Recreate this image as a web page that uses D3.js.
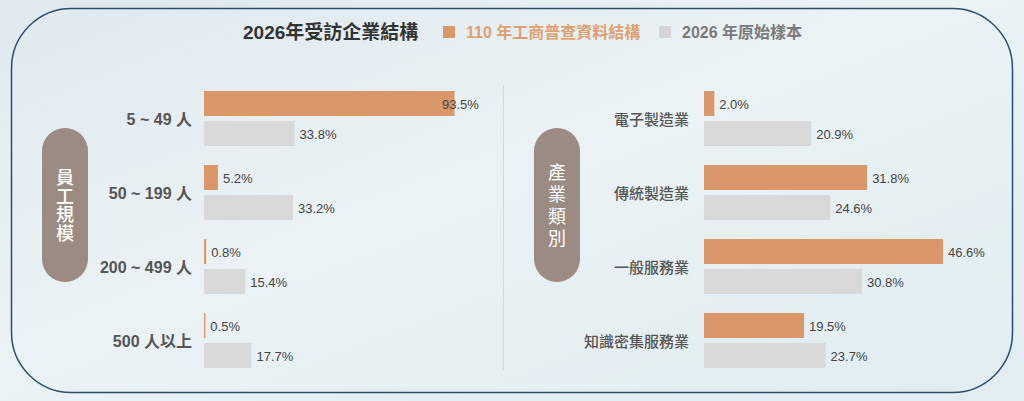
<!DOCTYPE html>
<html>
<head>
<meta charset="utf-8">
<script src="https://cdn.jsdelivr.net/npm/d3@7"></script>
<style>
  html, body { margin: 0; padding: 0; background: #e4eef2; }
  svg { display: block; }
</style>
</head>
<body>
<div id="chart"></div>
<script>
// data
const title = '2026年受訪企業結構';
const seriesNames = ['110 年工商普查資料結構', '2026 年原始樣本'];
const sizeLabels = ['5 ~ 49 人', '50 ~ 199 人', '200 ~ 499 人', '500 人以上'];
const sizeCensus = [93.5, 5.2, 0.8, 0.5];
const sizeSample = [33.8, 33.2, 15.4, 17.7];
const industryLabels = ['電子製造業', '傳統製造業', '一般服務業', '知識密集服務業'];
const industryCensus = [2.0, 31.8, 46.6, 19.5];
const industrySample = [20.9, 24.6, 30.8, 23.7];

const width = 1024, height = 401;
const colors = ['#d9976a', '#d9d9d9'];
const cjk = '"Liberation Sans", Arial, "Noto Sans CJK TC", sans-serif';

var svg = d3.select('#chart')
  .append('svg')
  .attr('width', width)
  .attr('height', height);

var defs = svg.append('defs');
var bg = defs.append('linearGradient')
  .attr('id', 'bg')
  .attr('x1', 0).attr('y1', 0).attr('x2', 1).attr('y2', 1);
bg.append('stop').attr('offset', '0%').attr('stop-color', '#dfe9ee');
bg.append('stop').attr('offset', '45%').attr('stop-color', '#eaf2f5');
bg.append('stop').attr('offset', '100%').attr('stop-color', '#e1edf1');

svg.append('rect')
  .attr('width', width).attr('height', height)
  .attr('fill', 'url(#bg)');

// frame
svg.append('rect')
  .attr('x', 11.5).attr('y', 8.5)
  .attr('width', 1001).attr('height', 384)
  .attr('rx', 60).attr('ry', 60)
  .attr('fill', 'none')
  .attr('stroke', '#2d4c6c')
  .attr('stroke-width', 1.5);

// title + legend
svg.append('text')
  .attr('x', 243).attr('y', 39)
  .attr('font-family', cjk)
  .attr('font-size', 19)
  .attr('font-weight', 'bold')
  .attr('fill', '#333')
  .text(title);

var legend = svg.append('g');
var legendX = [443, 659];
var legendText = ['#dfa071', '#7a7a7a'];
var legendSwatch = ['#d9976a', '#d6d6d9'];
seriesNames.forEach((name, i) => {
  legend.append('rect')
    .attr('x', legendX[i]).attr('y', 26)
    .attr('width', 12).attr('height', 12)
    .attr('fill', legendSwatch[i]);
  legend.append('text')
    .attr('x', legendX[i] + 23).attr('y', 38)
    .attr('font-family', cjk)
    .attr('font-size', 16)
    .attr('font-weight', 'bold')
    .attr('fill', legendText[i])
    .text(name);
});

// divider
svg.append('line')
  .attr('x1', 503.5).attr('x2', 503.5)
  .attr('y1', 85).attr('y2', 370)
  .attr('stroke', '#d3dadd')
  .attr('stroke-width', 1);

function drawPanel(opts) {
  var g = svg.append('g');

  var y = d3.scaleBand()
    .domain(opts.labels)
    .range([91, 368])
    .paddingInner(19 / 74)
    .paddingOuter(0);

  var ySub = d3.scaleBand()
    .domain([0, 1])
    .range([0, y.bandwidth()])
    .paddingInner(1 / 6);

  var x = d3.scaleLinear().domain([0, 100]).range(opts.xRange);

  // pill with vertical title
  g.append('rect')
    .attr('x', opts.pillX).attr('y', 128)
    .attr('width', 46).attr('height', 154)
    .attr('rx', 23).attr('ry', 23)
    .attr('fill', '#9b8b82');

  g.append('text')
    .attr('x', opts.pillX + 23)
    .attr('y', 205 + opts.pillGap / 2)
    .attr('writing-mode', 'vertical-rl')
    .attr('text-anchor', 'middle')
    .attr('letter-spacing', opts.pillGap)
    .attr('font-family', '"Noto Sans CJK TC", sans-serif')
    .attr('font-size', 18)
    .attr('font-weight', opts.pillWeight)
    .attr('fill', '#fff')
    .text(opts.pillText);

  // category labels
  g.selectAll('.cat')
    .data(opts.labels)
    .enter()
    .append('text')
    .attr('x', opts.labelX)
    .attr('y', (d) => y(d) + y.bandwidth() / 2 + 1)
    .attr('text-anchor', 'end')
    .attr('dominant-baseline', 'central')
    .attr('font-family', cjk)
    .attr('font-size', opts.labelSize)
    .attr('font-weight', opts.labelWeight)
    .attr('fill', '#555')
    .text((d) => d);

  var rows = [];
  opts.labels.forEach((lab, i) => {
    rows.push({ cat: lab, s: 0, v: opts.census[i] });
    rows.push({ cat: lab, s: 1, v: opts.sample[i] });
  });

  g.selectAll('.bar')
    .data(rows)
    .enter()
    .append('rect')
    .attr('x', x(0))
    .attr('y', (d) => y(d.cat) + ySub(d.s))
    .attr('width', (d) => x(d.v) - x(0))
    .attr('height', ySub.bandwidth())
    .attr('fill', (d) => colors[d.s]);

  g.selectAll('.val')
    .data(rows)
    .enter()
    .append('text')
    .attr('x', (d) => Math.min(x(d.v) + 5, opts.xRange[1] - 30))
    .attr('y', (d) => y(d.cat) + ySub(d.s) + ySub.bandwidth() / 2 + 1)
    .attr('dominant-baseline', 'central')
    .attr('font-family', cjk)
    .attr('font-size', 13)
    .attr('fill', '#444')
    .text((d) => d.v.toFixed(1) + '%');
}

drawPanel({
  labels: sizeLabels,
  census: sizeCensus,
  sample: sizeSample,
  xRange: [204, 472],
  pillX: 42,
  pillText: '員工規模',
  pillGap: 0.5,
  pillWeight: 500,
  labelX: 192,
  labelSize: 16,
  labelWeight: 'bold'
});

drawPanel({
  labels: industryLabels,
  census: industryCensus,
  sample: industrySample,
  xRange: [704, 1217],
  pillX: 534,
  pillText: '產業類別',
  pillGap: 4,
  pillWeight: 400,
  labelX: 689,
  labelSize: 15,
  labelWeight: 500
});
</script>
</body>
</html>
